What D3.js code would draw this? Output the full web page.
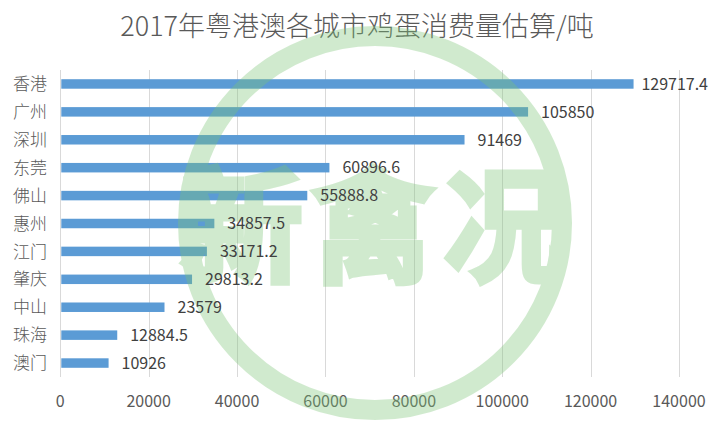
<!DOCTYPE html>
<html>
<head>
<meta charset="utf-8">
<title>2017年粤港澳各城市鸡蛋消费量估算</title>
<script src="https://d3js.org/d3.v7.min.js"></script>
<style>
  body { margin: 0; background: #fff; }
  text { font-family: "Noto Sans CJK SC", "Noto Sans", sans-serif; }
</style>
</head>
<body>
<div id="chart"></div>
<script>
// data (tonnes)
var cities = ["香港", "广州", "深圳", "东莞", "佛山", "惠州", "江门", "肇庆", "中山", "珠海", "澳门"];
var values = [129717.4, 105850, 91469, 60896.6, 55888.8, 34857.5, 33171.2, 29813.2, 23579, 12884.5, 10926];
var xTicks = [0, 20000, 40000, 60000, 80000, 100000, 120000, 140000];

var width = 714, height = 424;
var svg = d3.select("#chart").append("svg").attr("width", width).attr("height", height);

var x = d3.scaleLinear().domain([0, 140000]).range([60.3, 679]);
var y = d3.scaleBand().domain(cities).range([70, 377]).paddingInner(0.66).paddingOuter(0.33);

// title
svg.append("text")
  .attr("x", 357).attr("y", 36)
  .attr("text-anchor", "middle")
  .style("font-size", "27px")
  .style("font-weight", 300)
  .style("fill", "#595959")
  .text("2017年粤港澳各城市鸡蛋消费量估算/吨");

// vertical gridlines
svg.selectAll(".grid").data(xTicks).enter().append("line")
  .attr("class", "grid")
  .attr("x1", function(d) { return Math.round(x(d)) + 0.5; })
  .attr("x2", function(d) { return Math.round(x(d)) + 0.5; })
  .attr("y1", 70).attr("y2", 377)
  .style("stroke", "#d9d9d9").style("stroke-width", 1);

// tick labels
svg.selectAll(".tick-label").data(xTicks).enter().append("text")
  .attr("class", "tick-label")
  .attr("x", function(d) { return x(d); })
  .attr("y", 407)
  .attr("text-anchor", "middle")
  .style("font-size", "16px")
  .style("fill", "#595959")
  .text(function(d) { return d; });

// bars
svg.selectAll(".bar").data(values).enter().append("rect")
  .attr("class", "bar")
  .attr("x", x(0) + 1)
  .attr("y", function(d, i) { return y(cities[i]); })
  .attr("width", function(d) { return x(d) - x(0) - 1; })
  .attr("height", y.bandwidth())
  .style("fill", "#5b9bd5");

// watermark
var wm = svg.append("g").style("opacity", 0.35);
wm.append("circle")
  .attr("cx", 375).attr("cy", 223).attr("r", 187)
  .style("fill", "none").style("stroke", "#7cc576").style("stroke-width", 20);
wm.append("text")
  .attr("x", 377).attr("y", 272)
  .attr("text-anchor", "middle")
  .style("font-size", "124px")
  .style("font-weight", "bold")
  .style("letter-spacing", "8px")
  .style("fill", "#7cc576")
  .style("stroke", "#7cc576")
  .style("stroke-width", 5)
  .style("stroke-linejoin", "miter")
  .text("新禽况");

// category labels
svg.selectAll(".cat").data(cities).enter().append("text")
  .attr("class", "cat")
  .attr("x", 47)
  .attr("y", function(d) { return y(d) + y.bandwidth() / 2; })
  .attr("dy", "0.36em")
  .attr("text-anchor", "end")
  .style("font-size", "17px")
  .style("font-weight", 300)
  .style("fill", "#595959")
  .text(function(d) { return d; });

// value labels
svg.selectAll(".val").data(values).enter().append("text")
  .attr("class", "val")
  .attr("y", function(d, i) { return y(cities[i]) + y.bandwidth() / 2; })
  .attr("dy", "0.36em")
  .style("font-size", "16px")
  .style("fill", "#404040")
  .text(function(d) { return d; })
  .attr("x", function(d) {
    var w = this.getComputedTextLength();
    return Math.min(x(d) + 13, 708 - w);
  });
</script>
</body>
</html>
